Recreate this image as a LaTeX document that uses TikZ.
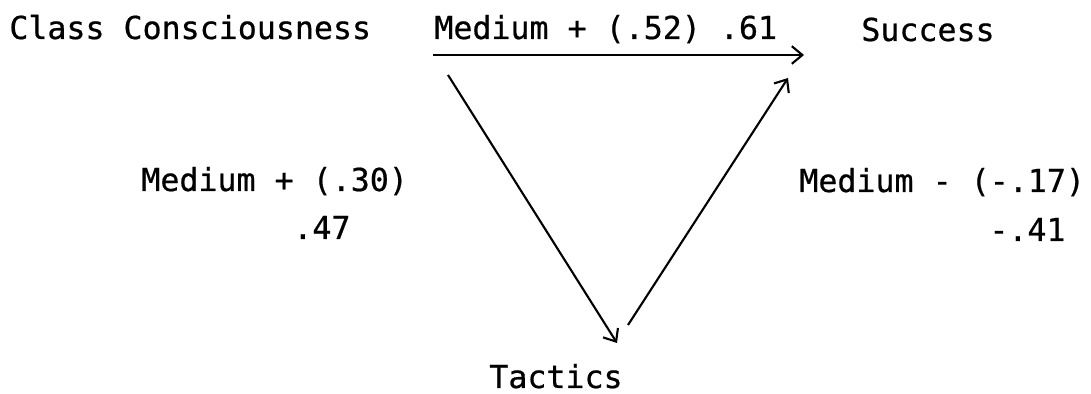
\documentclass[tikz,border=0pt]{standalone}
\usepackage{fontspec}
\setmonofont[FakeBold=0.6]{DejaVu Sans Mono}
\usepackage{tikz}
\usetikzlibrary{arrows.meta}

\tikzset{
        txt/.style={font=\ttfamily\fontsize{18}{22}\selectfont, inner sep=0pt, anchor=base west},
        path/.style={line width=1.2pt, -{Straight Barb[length=6pt,width=10pt,line width=1.2pt]}}
}

\begin{document}
\begin{tikzpicture}[x=0.02cm, y=-0.02cm]
        \useasboundingbox (0,0) rectangle (1091,394);
        \node[txt] (cc) at (9,39) {Class Consciousness};
        \node[txt] (su) at (861,41) {Success};
        \node[txt] (ta) at (489,388) {Tactics};
        \node[txt] (cc-su) at (434,39) {Medium + (.52) .61};
        \node[txt] (cc-ta) at (141,191) {Medium + (.30)};
        \node[txt] (cc-ta-r) at (293,239) {.47};
        \node[txt] (ta-su) at (799,192) {Medium - (-.17)};
        \node[txt] (ta-su-r) at (989,241) {-.41};
        % free ends of the three arrows
        \coordinate (a1) at (433,55);
        \coordinate (a2) at (804,55);
        \coordinate (b1) at (448,75);
        \coordinate (b2) at (617,343);
        \coordinate (c1) at (628,325);
        \coordinate (c2) at (788,78);
        \draw[path] (a1) -- (a2);
        \draw[path] (b1) -- (b2);
        \draw[path] (c1) -- (c2);
\end{tikzpicture}
\end{document}
